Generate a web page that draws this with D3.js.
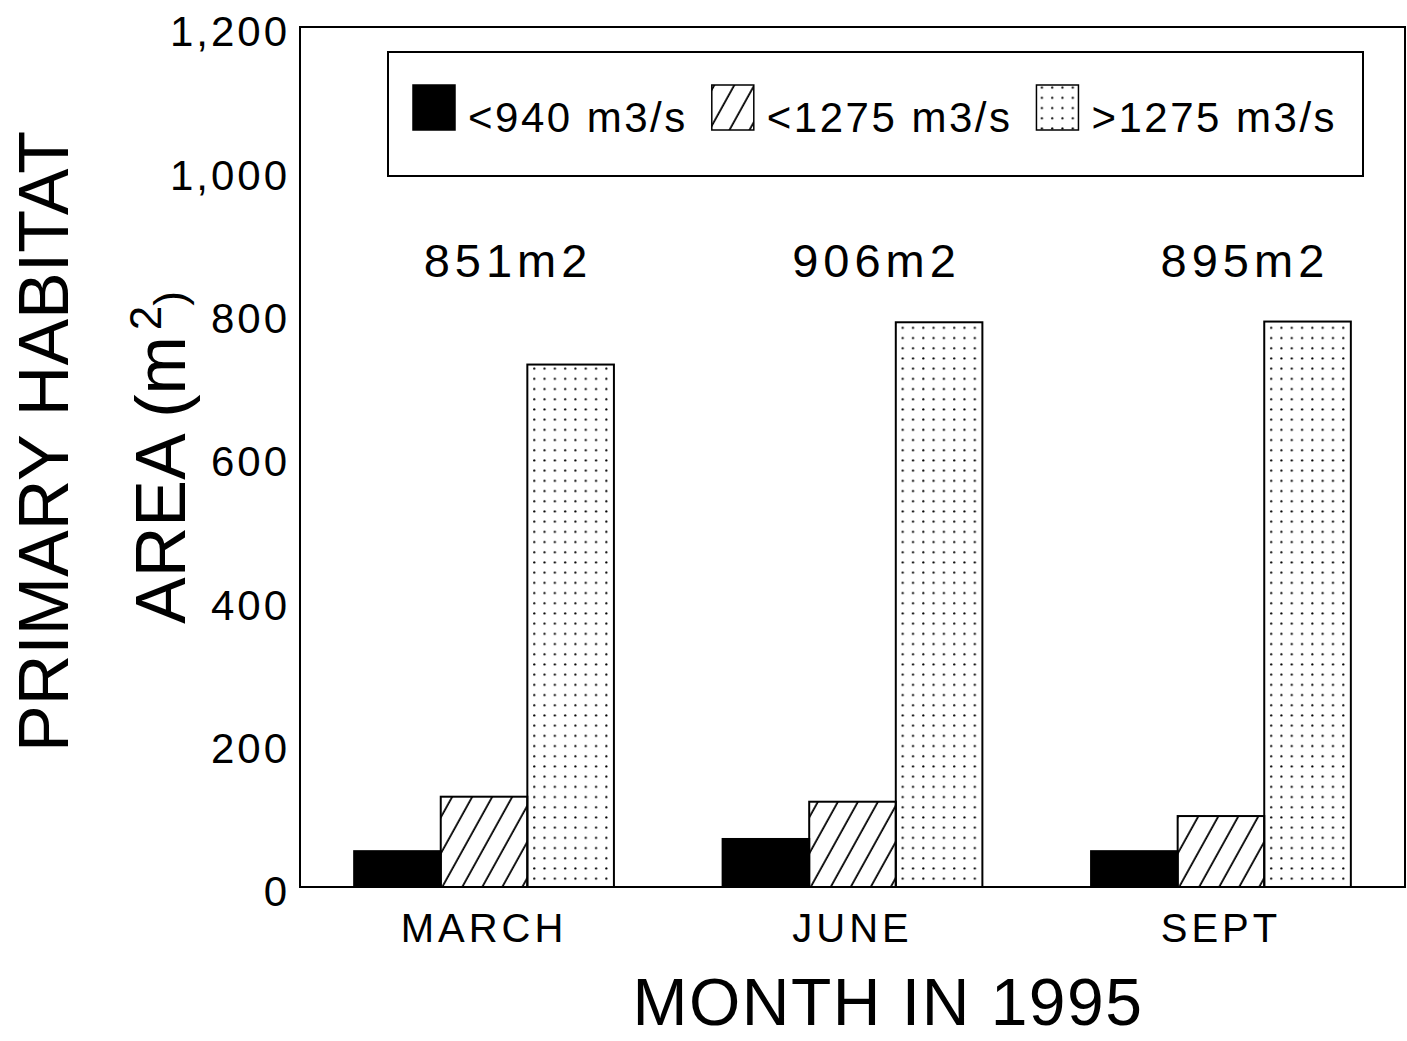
<!DOCTYPE html>
<html lang="en">
  <head>
    <meta charset="UTF-8" />
    <title>Primary habitat area</title>
    <script src="https://cdn.jsdelivr.net/npm/d3@7"></script>
    <style>
      body { margin: 0; background: white; }
      text { font-family: Arial, "Liberation Sans", sans-serif; fill: black; }
    </style>
  </head>
  <body>
    <div id="chart"></div>
    <script>
      // values
      let months = ["MARCH", "JUNE", "SEPT"];
      let seriesNames = ["<940 m3/s", "<1275 m3/s", ">1275 m3/s"];
      let lowFlow = [50, 67, 50];
      let midFlow = [126, 119, 99];
      let highFlow = [729, 788, 789];
      let totalLabels = ["851m2", "906m2", "895m2"];
      let yTicks = [0, 200, 400, 600, 800, 1000, 1200];

      let W = 1407, H = 1041;
      let margin = { top: 27, right: 2, bottom: 154, left: 300 };
      let width = W - margin.left - margin.right;
      let height = H - margin.top - margin.bottom;

      let svg = d3.select("#chart").append("svg")
        .attr("width", W).attr("height", H);

      let defs = svg.append("defs");
      let dots = defs.append("pattern")
        .attr("id", "dots").attr("patternUnits", "userSpaceOnUse")
        .attr("width", 10.3).attr("height", 10.2);
      dots.append("circle").attr("cx", 5).attr("cy", 5).attr("r", 1.1).attr("fill", "black");

      let hatch = defs.append("pattern")
        .attr("id", "hatch").attr("patternUnits", "userSpaceOnUse")
        .attr("width", 17.5).attr("height", 17.5)
        .attr("patternTransform", "rotate(29)");
      hatch.append("line").attr("x1", 4).attr("x2", 4).attr("y1", 0).attr("y2", 17.5)
        .attr("stroke", "black").attr("stroke-width", 1.8);

      let fills = ["black", "url(#hatch)", "url(#dots)"];

      let g = svg.append("g").attr("transform", `translate(${margin.left},${margin.top})`);

      let x0 = d3.scaleBand().domain(months).range([0, width])
        .paddingInner(0.295).paddingOuter(0.147);
      let x1 = d3.scaleBand().domain(seriesNames).range([0, x0.bandwidth()]);
      let y = d3.scaleLinear().domain([0, 1200]).range([height, 0]);

      let rows = months.map(function (m, i) {
        return { month: m, values: [lowFlow[i], midFlow[i], highFlow[i]], total: totalLabels[i] };
      });

      // frame
      g.append("rect").attr("x", 0).attr("y", 0).attr("width", width).attr("height", height)
        .attr("fill", "none").attr("stroke", "black").attr("stroke-width", 2);

      // y axis
      let yAxis = g.append("g")
        .call(d3.axisLeft(y).tickValues(yTicks).tickSize(0).tickPadding(10).tickFormat(d3.format(",")));
      yAxis.select(".domain").remove();
      yAxis.selectAll("text")
        .attr("font-size", "42px").attr("letter-spacing", "3px")
        .attr("font-family", "Arial, 'Liberation Sans', sans-serif")
        .attr("dy", "0.45em");

      // bars
      let groups = g.selectAll(".grp").data(rows).enter().append("g")
        .attr("transform", function (d) { return `translate(${x0(d.month)},0)`; });

      groups.selectAll("rect").data(function (d) {
        return d.values.map(function (v, j) { return { name: seriesNames[j], value: v, j: j }; });
      }).enter().append("rect")
        .attr("x", function (d) { return x1(d.name); })
        .attr("y", function (d) { return y(d.value); })
        .attr("width", x1.bandwidth())
        .attr("height", function (d) { return height - y(d.value); })
        .attr("fill", function (d) { return fills[d.j]; })
        .attr("stroke", "black").attr("stroke-width", 2);

      // totals above groups
      groups.append("text")
        .attr("x", x0.bandwidth() / 2 + 24).attr("y", 250)
        .attr("text-anchor", "middle").attr("font-size", "47px").attr("letter-spacing", "5px")
        .text(function (d) { return d.total; });

      // month labels
      groups.append("text")
        .attr("x", x0.bandwidth() / 2).attr("y", height + 55)
        .attr("text-anchor", "middle").attr("font-size", "40px").attr("letter-spacing", "4px")
        .text(function (d) { return d.month; });

      // x title
      svg.append("text")
        .attr("x", 888).attr("y", 1025)
        .attr("text-anchor", "middle").attr("font-size", "66px").attr("letter-spacing", "1.5px")
        .text("MONTH IN 1995");

      // y title, two lines
      svg.append("text")
        .attr("transform", "translate(68,752) rotate(-90)")
        .attr("font-size", "70px")
        .text("PRIMARY HABITAT");
      let t2 = svg.append("text")
        .attr("transform", "translate(185,624) rotate(-90)")
        .attr("font-size", "70px");
      t2.append("tspan").text("AREA (m");
      t2.append("tspan").attr("font-size", "44px").attr("dy", -24).attr("dx", 6).text("2");
      t2.append("tspan").attr("font-size", "44px").attr("dy", 24).text(")");

      // legend
      let legend = svg.append("g").attr("transform", "translate(388,52)");
      legend.append("rect").attr("width", 975).attr("height", 124)
        .attr("fill", "white").attr("stroke", "black").attr("stroke-width", 2);
      let lx = 25;
      seriesNames.forEach(function (name, j) {
        legend.append("rect").attr("x", lx).attr("y", 33).attr("width", 42).attr("height", 45)
          .attr("fill", fills[j]).attr("stroke", "black").attr("stroke-width", 1.5);
        let t = legend.append("text").attr("x", lx + 55).attr("y", 80)
          .attr("font-size", "42px").attr("letter-spacing", "2.5px").text(name);
        lx = lx + 55 + t.node().getComputedTextLength() + 24;
      });
    </script>
  </body>
</html>
